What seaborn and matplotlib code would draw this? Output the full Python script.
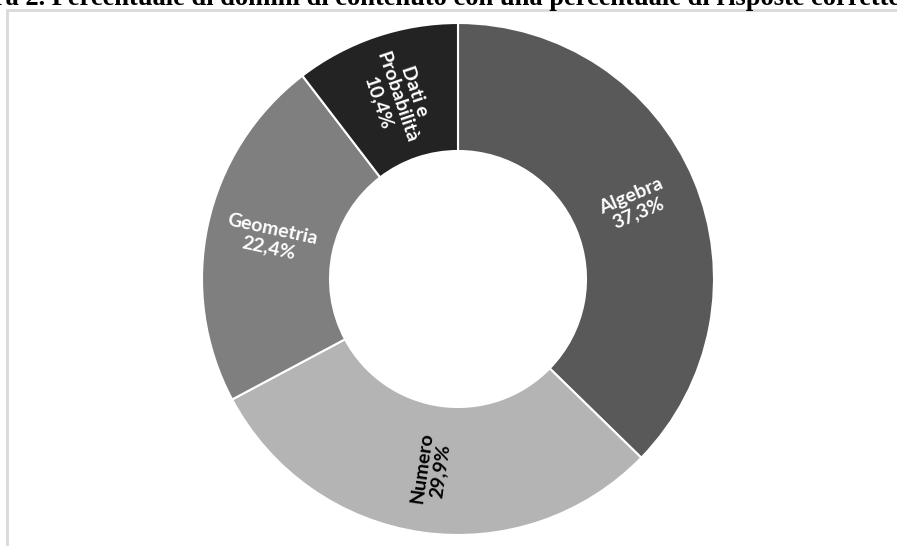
import numpy as np
import matplotlib
matplotlib.use("Agg")
import matplotlib.pyplot as plt
import seaborn as sns
from matplotlib.patches import Rectangle

categories = ["Algebra", "Numero", "Geometria", "Dati e\nProbabilità"]
values = [37.3, 29.9, 22.4, 10.4]
value_labels = ["37,3%", "29,9%", "22,4%", "10,4%"]
title = "Figura 2. Percentuale di domini di contenuto con una percentuale di risposte corrette"

colors = ["#595959", "#b4b4b4", "#7f7f7f", "#232323"]
text_colors = ["white", "black", "white", "white"]

sns.set_theme(style="white")
plt.rcParams["font.family"] = ["Lato", "DejaVu Sans"]

W, H = 897, 546
fig = plt.figure(figsize=(W / 100, H / 100), dpi=100)
fig.patch.set_facecolor("white")

# frame box
fig.patches.append(Rectangle((7 / W, -0.1), 1.2, 1 - 10 / H + 0.1, transform=fig.transFigure,
                             fill=False, edgecolor="#d9d9d9", linewidth=2))

# title (partially clipped like the reference)
fig.text(900 / W, 1 - 5 / H, title, ha="right", va="baseline",
         fontsize=19.1, fontweight="bold", family=["Liberation Serif", "DejaVu Serif"], color="black")

cx, cy, R = 458, 279, 256
ax = fig.add_axes([(cx - R) / W, (H - cy - R) / H, 2 * R / W, 2 * R / H])
wedges, _ = ax.pie(values, colors=colors, startangle=90, counterclock=False,
                   wedgeprops=dict(width=0.5, edgecolor="white", linewidth=1.5))
for w in wedges:
    w.set_clip_on(False)
ax.set_xlim(-1, 1)
ax.set_ylim(-1, 1)
ax.axis("off")

total = sum(values)
cum = 0.0
for cat, v, lab, tc in zip(categories, values, value_labels, text_colors):
    mid = 90 - (cum + v / 2) / total * 360
    cum += v
    r = 0.75
    x = r * np.cos(np.radians(mid))
    y = r * np.sin(np.radians(mid))
    rot = mid
    while rot > 90:
        rot -= 180
    while rot < -90:
        rot += 180
    ax.text(x, y, f"{cat}\n{lab}", ha="center", va="center", rotation=rot,
            rotation_mode="anchor", color=tc, fontsize=14, fontweight="bold",
            linespacing=1.15, multialignment="center")

fig.savefig("out.png", dpi=100, facecolor="white")
